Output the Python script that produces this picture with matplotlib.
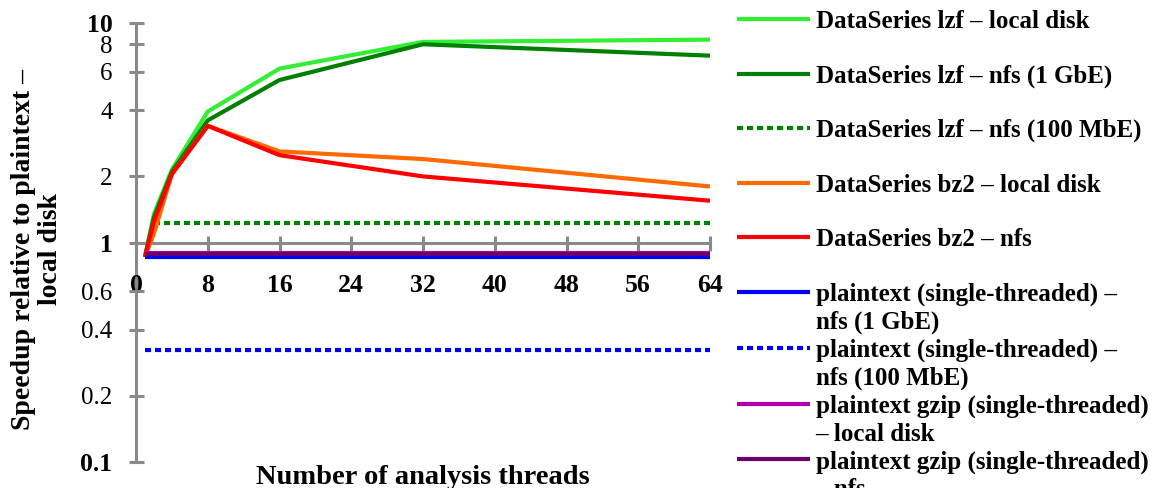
# -*- coding: utf-8 -*-
"""
Speedup vs number of analysis threads (log y), DataSeries lzf/bz2 vs plaintext baselines.
Values read off the reference picture.
"""
import numpy as np
import matplotlib
matplotlib.use("Agg")
import matplotlib.pyplot as plt
from matplotlib.lines import Line2D

# ---- data ----
THREADS = [1, 2, 4, 8, 16, 32, 64]

lzf_local = [0.86, 1.35, 2.15, 3.95, 6.2, 8.2, 8.4]
lzf_nfs_1g = [0.86, 1.3, 2.1, 3.6, 5.5, 8.0, 7.1]
lzf_nfs_100m = [np.nan, 1.23, 1.23, 1.23, 1.23, 1.23, 1.23]
bz2_local = [0.86, 1.1, 2.05, 3.4, 2.6, 2.4, 1.8]
bz2_nfs = [0.86, 1.25, 2.05, 3.4, 2.5, 2.0, 1.55]
plain_nfs_1g = [0.857] * 7
plain_nfs_100m = [0.323] * 7
gzip_local = [0.896] * 7
gzip_nfs = [0.882] * 7

SERIES = [lzf_local, lzf_nfs_1g, lzf_nfs_100m, bz2_local, bz2_nfs,
          plain_nfs_1g, plain_nfs_100m, gzip_local, gzip_nfs]
LABELS = ["DataSeries lzf – local disk",
          "DataSeries lzf – nfs (1 GbE)",
          "DataSeries lzf – nfs (100 MbE)",
          "DataSeries bz2 – local disk",
          "DataSeries bz2 – nfs",
          "plaintext (single-threaded) –\nnfs (1 GbE)",
          "plaintext (single-threaded) –\nnfs (100 MbE)",
          "plaintext gzip (single-threaded)\n– local disk",
          "plaintext gzip (single-threaded)\n– nfs"]
COLORS = ["#33ee33", "#008000", "#008000", "#ff6a00", "#ff0000",
          "#0000ff", "#0000ff", "#b000b0", "#6a006a"]
DOTTED = [False, False, True, False, False, False, True, False, False]

X_TICKS = list(range(0, 65, 8))
Y_MAJOR = [0.1, 1, 10]
Y_MINOR = [0.2, 0.4, 0.6, 2, 4, 6, 8]

GRAY = "#898989"
FONT = "Liberation Serif"
DOTS = (0, (1.45, 0.95))

W, H = 1166, 488
fig = plt.figure(figsize=(W / 100, H / 100), dpi=100)
ax = fig.add_axes([136 / W, 1 - 462 / H, (710 - 136) / W, (462 - 23) / H])

lines = []
for vals, lab, c, dot in zip(SERIES, LABELS, COLORS, DOTTED):
    ln, = ax.plot(THREADS, vals, color=c, lw=3,
                  linestyle=DOTS if dot else "-",
                  dash_capstyle="butt", solid_capstyle="butt",
                  solid_joinstyle="round", label=lab)
    lines.append(ln)

ax.set_yscale("log")
ax.set_xlim(0, 64)
ax.set_ylim(0.1, 10)

# axes: x axis crosses at y=1
for s in ("top", "right"):
    ax.spines[s].set_visible(False)
ax.spines["bottom"].set_position(("data", 1))
for s in ("left", "bottom"):
    ax.spines[s].set_color(GRAY)
    ax.spines[s].set_linewidth(2.2)
    ax.spines[s].set_zorder(1)

ax.set_xticks(X_TICKS)
ax.set_xticklabels([str(v) for v in X_TICKS], fontfamily=FONT,
                   fontweight="bold", fontsize=18.5)
ax.set_yticks(Y_MAJOR)
ax.set_yticklabels(["0.1", "1", "10"], fontfamily=FONT,
                   fontweight="bold", fontsize=18.5)
ax.set_yticks(Y_MINOR, minor=True)
ax.set_yticklabels([f"{v:g}" for v in Y_MINOR], minor=True,
                   fontfamily=FONT, fontsize=18)
ax.tick_params(axis="x", which="both", direction="inout", length=10.8,
               width=2.2, color=GRAY, pad=17.5)
ax.tick_params(axis="y", which="both", direction="inout", length=10.8,
               width=2.2, color=GRAY, pad=11.5)

ax.set_xlabel("Number of analysis threads", fontfamily=FONT,
              fontweight="bold", fontsize=20.5, va="center")
ax.xaxis.set_label_coords(0.5, (462 - 477) / 439)
ax.set_ylabel("Speedup relative to plaintext –\nlocal disk", fontfamily=FONT,
              fontweight="bold", fontsize=20, va="center", ha="center",
              linespacing=1.15)
ax.yaxis.set_label_coords((37 - 136) / 574, (462 - 249) / 439)

# ---- legend: two groups, wrapped labels split into rows ----
leg_kw = dict(loc="upper left", bbox_transform=fig.transFigure, frameon=False,
              borderpad=0, borderaxespad=0, handlelength=2.92,
              handletextpad=0.22, prop={"family": FONT, "weight": "bold",
                                        "size": 18})
leg1 = ax.legend(handles=lines[:5], labels=LABELS[:5],
                 bbox_to_anchor=(737 / W, 1 - 10 / H), labelspacing=1.25,
                 **leg_kw)
ax.add_artist(leg1)

h2, l2 = [], []
for ln, lab in zip(lines[5:], LABELS[5:]):
    parts = lab.split("\n")
    h2.append(ln)
    l2.append(parts[0])
    for p in parts[1:]:
        h2.append(Line2D([], [], color="none"))
        l2.append(p)
ax.legend(handles=h2, labels=l2, bbox_to_anchor=(737 / W, 1 - 283 / H),
          labelspacing=0.18, **leg_kw)

fig.savefig("out.png", dpi=100)
